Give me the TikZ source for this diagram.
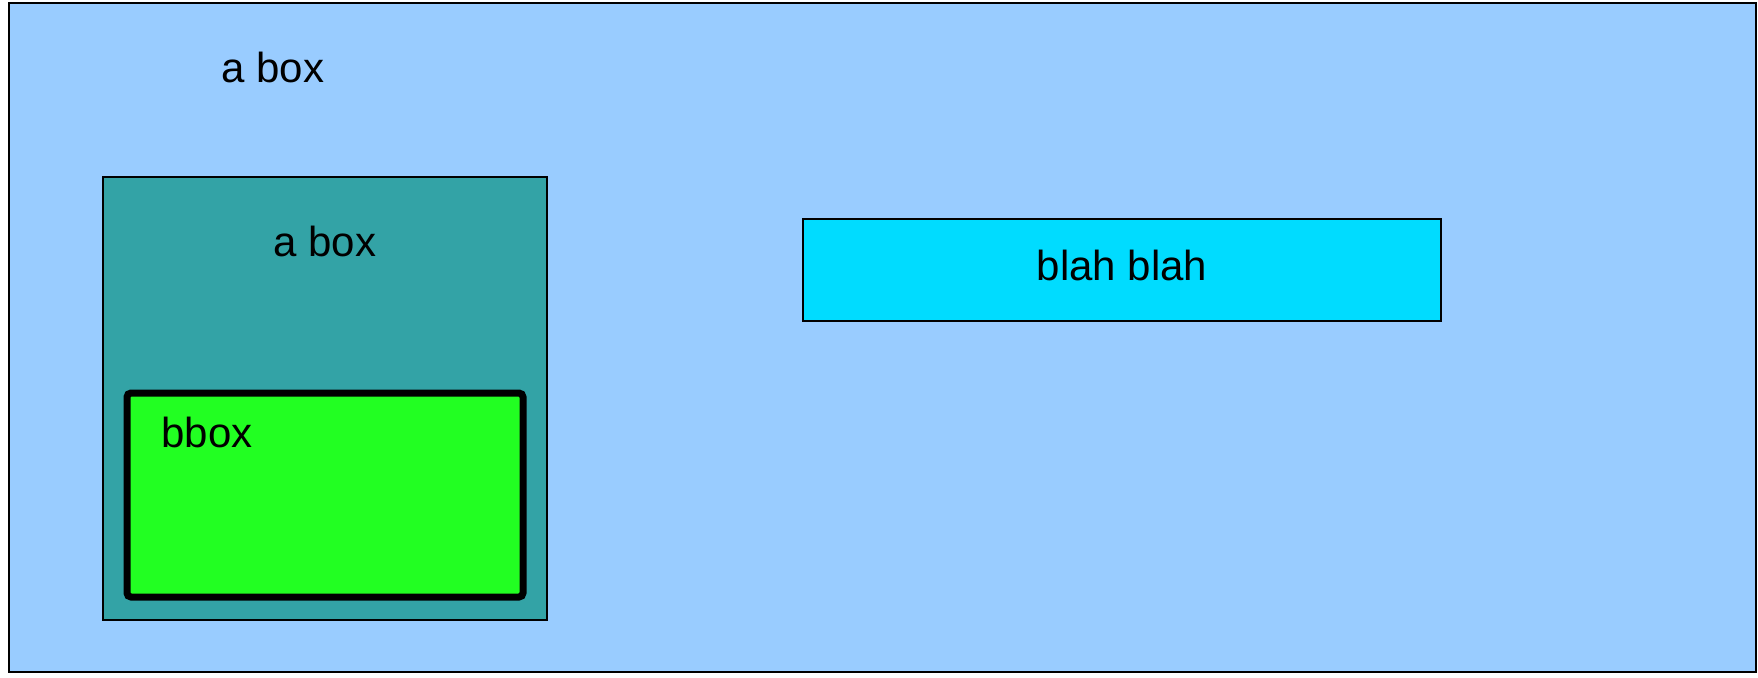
\documentclass[tikz,border=0pt]{standalone}
\usepackage{fontspec}
\setmainfont{Liberation Sans}
\usepackage{tikz}
\usetikzlibrary{positioning}
\usepackage{xcolor}
\definecolor{skyblue}{HTML}{99CCFF}
\definecolor{tealbox}{HTML}{33A3A6}
\definecolor{limebox}{HTML}{22FF22}
\definecolor{cyanbox}{HTML}{00DCFF}

\begin{document}
\begin{tikzpicture}[x=0.5pt,y=-0.5pt,
  box/.style={draw=black,inner sep=0pt,outer sep=0pt},
  lbl/.style={anchor=base,inner sep=0pt,font=\fontsize{21}{25}\selectfont}]
\useasboundingbox (0,0) rectangle (1758,677);
\node[box,line width=1pt,fill=skyblue,minimum width=873.5pt,minimum height=334.5pt] (outer) at (882.5,337.5) {};
\node[lbl] (outerlbl) at (273,82) {a box};
\node[box,line width=0.6pt,fill=tealbox,minimum width=222pt,minimum height=221.5pt] (inner) at (325,398.5) {};
\node[lbl] (innerlbl) at (325,256) {a box};
\node[box,line width=3.5pt,rounded corners=2pt,fill=limebox,minimum width=198pt,minimum height=102pt] (bbox) at (325,495) {};
\node[lbl] (bboxlbl) at (207,447) {bbox};
\node[box,line width=0.8pt,fill=cyanbox,minimum width=319pt,minimum height=51pt] (blah) at (1122,270) {};
\node[lbl] (blahlbl) at (1122,280) {blah blah};
\end{tikzpicture}
\end{document}
